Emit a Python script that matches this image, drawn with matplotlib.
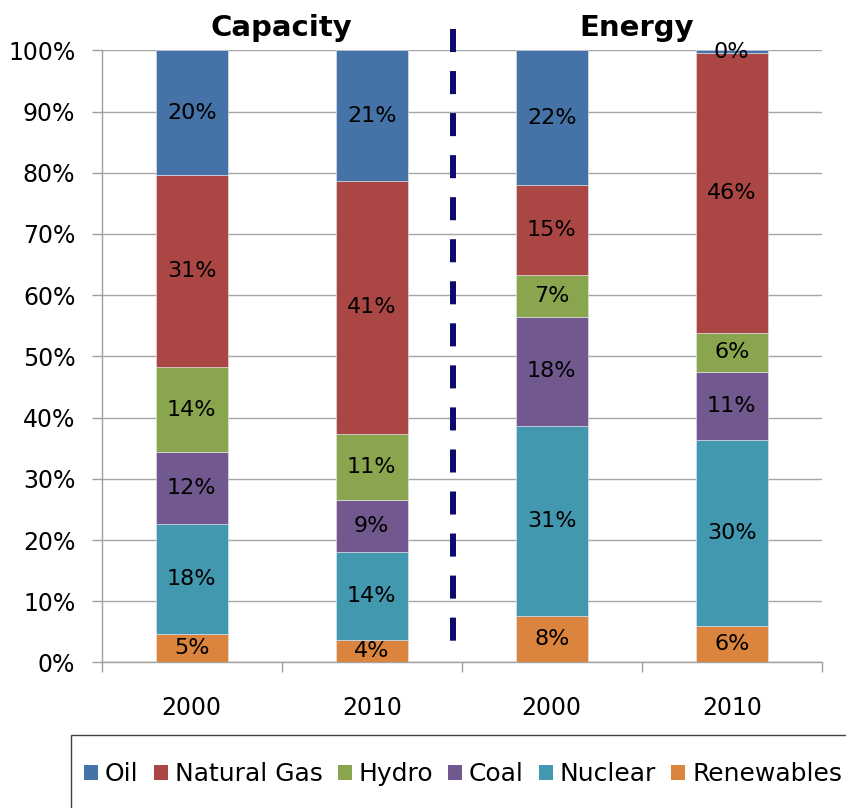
import matplotlib.pyplot as plt
from matplotlib.patches import Patch, Rectangle

# share of each source, bottom to top of every stacked bar
sources = ['Renewables', 'Nuclear', 'Coal', 'Hydro', 'Natural Gas', 'Oil']
colors = ['#DB843D', '#4198AF', '#71588F', '#89A54E', '#AA4643', '#4572A7']
years = ['2000', '2010', '2000', '2010']

renewables = [4.6, 3.6, 7.6, 6.0]
nuclear = [18.0, 14.4, 31.1, 30.4]
coal = [11.8, 8.6, 17.7, 11.1]
hydro = [13.8, 10.8, 6.9, 6.4]
gas = [31.4, 41.2, 14.7, 45.7]
oil = [20.4, 21.4, 22.0, 0.4]

series = [renewables, nuclear, coal, hydro, gas, oil]
groups = ['Capacity', 'Energy']

fig = plt.figure(figsize=(8.46, 8.08), dpi=100)
ax = fig.add_axes([101.7/846, 1 - 662.4/808, 720/846, 612/808])

x = list(range(len(years)))
bottom = [0.0]*len(years)
for name, vals, c in zip(sources, series, colors):
    ax.bar(x, vals, width=0.4, bottom=bottom, color=c, edgecolor='#e8e8f0',
           linewidth=0.4, zorder=3)
    for xi, b, v in zip(x, bottom, vals):
        ax.text(xi, b + v/2, '%.0f%%' % v, ha='center', va='center',
                fontsize=16, color='black', zorder=4)
    bottom = [b + v for b, v in zip(bottom, vals)]

ax.set_xlim(-0.5, 3.5)
ax.set_ylim(0, 100)
ax.set_yticks(range(0, 101, 10))
ax.set_yticklabels(['%d%%' % t for t in range(0, 101, 10)], fontsize=17)
ax.yaxis.grid(True, color='#a6a6a6', linewidth=1, zorder=0)
ax.set_axisbelow(True)

ax.set_xticks(x)
ax.set_xticklabels(years, fontsize=17)
ax.set_xticks([-0.5, 0.5, 1.5, 2.5, 3.5], minor=True)
ax.tick_params(axis='x', which='major', length=0, pad=24)
ax.tick_params(axis='x', which='minor', length=7, color='#a0a0a0', width=1)
ax.tick_params(axis='y', length=7, color='#a0a0a0', width=1, pad=12)

for s in ['top', 'right']:
    ax.spines[s].set_visible(False)
for s in ['left', 'bottom']:
    ax.spines[s].set_color('#a0a0a0')
    ax.spines[s].set_linewidth(1)

# divider between the two groups
ax.plot([1.45, 1.45], [103.5, 3.5], color='#0c0a6e', linewidth=4.3,
        linestyle=(0, (3.86, 3.18)), solid_capstyle='butt', clip_on=False, zorder=5)

ax.text(0.496, 102.35, groups[0], ha='center', va='baseline', fontsize=21,
        fontweight='bold')
ax.text(2.474, 102.35, groups[1], ha='center', va='baseline', fontsize=21,
        fontweight='bold')

# legend along the bottom, order as in the stack from the top
handles = [Patch(facecolor=c, edgecolor='none') for c in colors[::-1]]
fig.legend(handles, sources[::-1], loc='center left',
           bbox_to_anchor=(84/846, 1 - 774/808), ncol=6, frameon=False,
           fontsize=18, handlelength=0.56, handleheight=0.56,
           handletextpad=0.28, columnspacing=0.6, borderpad=0, borderaxespad=0)
fig.patches.append(Rectangle((71/846, -0.05), 1.0, 0.05 + 1 - 735/808,
                             transform=fig.transFigure, fill=False,
                             edgecolor='#404040', linewidth=1))

fig.savefig('out.png', dpi=100)
